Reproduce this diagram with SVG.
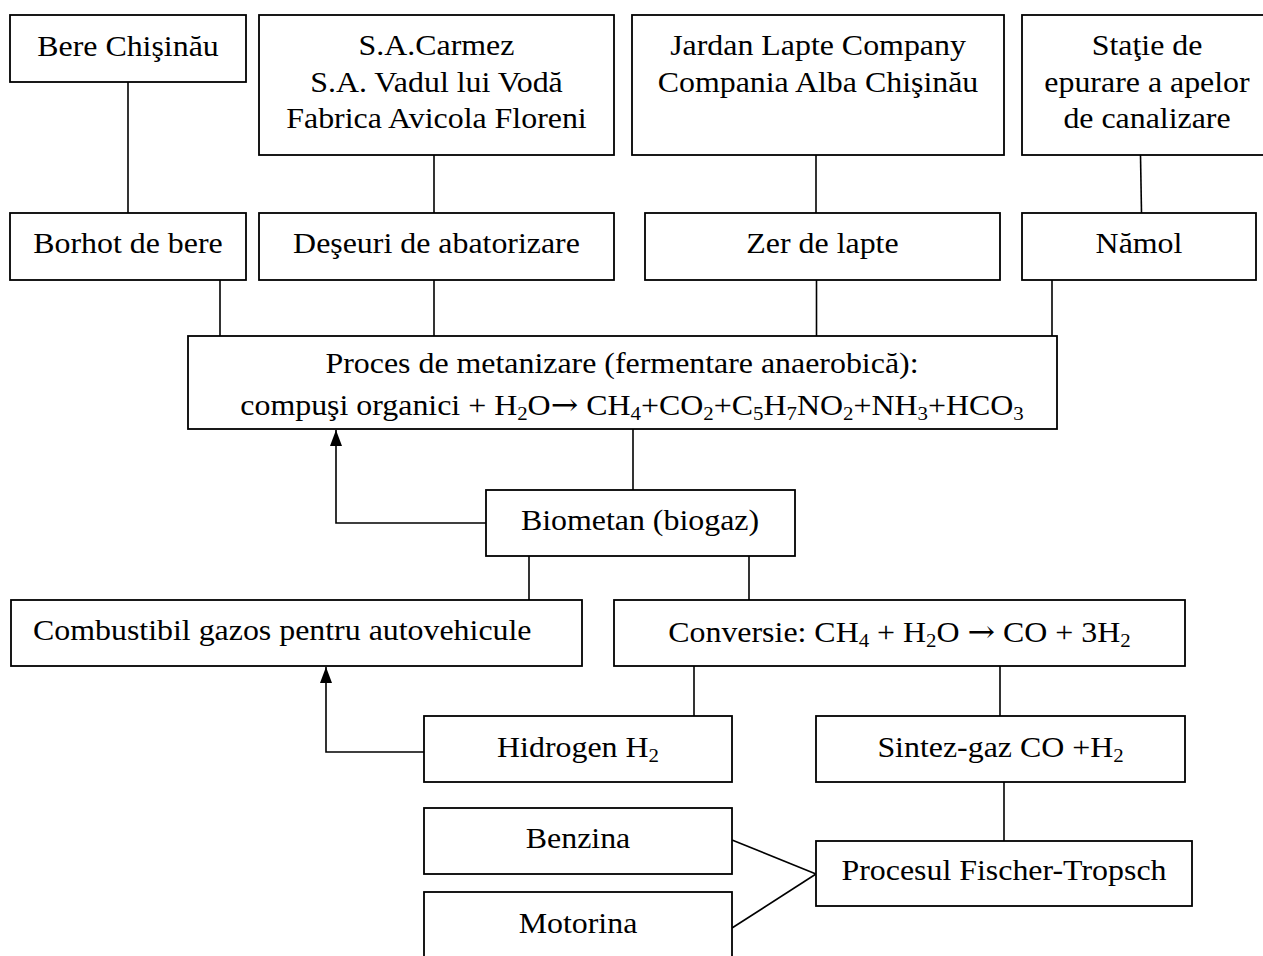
<svg xmlns="http://www.w3.org/2000/svg" width="1263" height="956" viewBox="0 0 1263 956">
<style>
.b{fill:#fff;stroke:#000;stroke-width:1.8}
.t{font-family:"Liberation Serif","Times New Roman",serif;font-size:29px;fill:#000;text-anchor:middle}
.s{text-anchor:start}
.c{fill:none;stroke:#000;stroke-width:1.6}
.sub{font-size:19px}
.ar{font-family:"DejaVu Serif",serif;font-size:30px}
</style>
<defs>
<marker id="ah" viewBox="0 0 16 12" refX="16" refY="6" markerWidth="16" markerHeight="12" markerUnits="userSpaceOnUse" orient="auto">
<path d="M0,0 L16,6 L0,12 z" fill="#000"/>
</marker>
</defs>
<rect width="1263" height="956" fill="#fff"/>
<g id="connectors">
<line class="c" x1="128" y1="82" x2="128" y2="213"/>
<line class="c" x1="434" y1="155" x2="434" y2="213"/>
<line class="c" x1="816" y1="155" x2="816" y2="213"/>
<line class="c" x1="1140.5" y1="155" x2="1141.5" y2="213"/>
<line class="c" x1="220" y1="280" x2="220" y2="336"/>
<line class="c" x1="434" y1="280" x2="434" y2="336"/>
<line class="c" x1="816.5" y1="280" x2="816.5" y2="336"/>
<line class="c" x1="1052" y1="280" x2="1052" y2="336"/>
<line class="c" x1="633" y1="429" x2="633" y2="490"/>
<polyline class="c" points="486,523 336,523 336,430" marker-end="url(#ah)"/>
<line class="c" x1="529" y1="556" x2="529" y2="600"/>
<line class="c" x1="749" y1="556" x2="749" y2="600"/>
<line class="c" x1="694" y1="666" x2="694" y2="716"/>
<line class="c" x1="1000" y1="666" x2="1000" y2="716"/>
<polyline class="c" points="424,752 326,752 326,667" marker-end="url(#ah)"/>
<line class="c" x1="1004" y1="782" x2="1004" y2="841"/>
<line class="c" x1="732" y1="840" x2="816" y2="874"/>
<line class="c" x1="732" y1="928" x2="816" y2="874"/>
</g>
<g id="n-bere">
<rect class="b" x="10" y="15" width="236" height="67"/>
<text class="t" transform="translate(128,56) scale(1.1,1)">Bere Chişinău</text>
</g>
<g id="n-carmez">
<rect class="b" x="259" y="15" width="355" height="140"/>
<text class="t" transform="translate(436.5,55) scale(1.1,1)">S.A.Carmez</text>
<text class="t" transform="translate(436.5,92) scale(1.1,1)">S.A. Vadul lui Vodă</text>
<text class="t" transform="translate(436.5,128) scale(1.1,1)">Fabrica Avicola Floreni</text>
</g>
<g id="n-jardan">
<rect class="b" x="632" y="15" width="372" height="140"/>
<text class="t" transform="translate(818,55) scale(1.1,1)">Jardan Lapte Company</text>
<text class="t" transform="translate(818,92) scale(1.1,1)">Compania Alba Chişinău</text>
</g>
<g id="n-statie">
<rect class="b" x="1022" y="15" width="250" height="140"/>
<text class="t" transform="translate(1147,55) scale(1.1,1)">Staţie de</text>
<text class="t" transform="translate(1147,92) scale(1.1,1)">epurare a apelor</text>
<text class="t" transform="translate(1147,128) scale(1.1,1)">de canalizare</text>
</g>
<g id="n-borhot">
<rect class="b" x="10" y="213" width="236" height="67"/>
<text class="t" transform="translate(128,253) scale(1.1,1)">Borhot de bere</text>
</g>
<g id="n-deseuri">
<rect class="b" x="259" y="213" width="355" height="67"/>
<text class="t" transform="translate(436.5,253) scale(1.1,1)">Deşeuri de abatorizare</text>
</g>
<g id="n-zer">
<rect class="b" x="645" y="213" width="355" height="67"/>
<text class="t" transform="translate(822.5,253) scale(1.1,1)">Zer de lapte</text>
</g>
<g id="n-namol">
<rect class="b" x="1022" y="213" width="234" height="67"/>
<text class="t" transform="translate(1139,253) scale(1.1,1)">Nămol</text>
</g>
<g id="n-proces">
<rect class="b" x="188" y="336" width="869" height="93"/>
<text class="t" transform="translate(622,373) scale(1.1,1)">Proces de metanizare (fermentare anaerobică):</text>
<text class="t" transform="translate(632,415) scale(1.1,1)">compuşi organici + H<tspan class="sub" dy="5">2</tspan><tspan dy="-5">O</tspan><tspan class="ar">→</tspan><tspan> CH</tspan><tspan class="sub" dy="5">4</tspan><tspan dy="-5">+CO</tspan><tspan class="sub" dy="5">2</tspan><tspan dy="-5">+C</tspan><tspan class="sub" dy="5">5</tspan><tspan dy="-5">H</tspan><tspan class="sub" dy="5">7</tspan><tspan dy="-5">NO</tspan><tspan class="sub" dy="5">2</tspan><tspan dy="-5">+NH</tspan><tspan class="sub" dy="5">3</tspan><tspan dy="-5">+HCO</tspan><tspan class="sub" dy="5">3</tspan></text>
</g>
<g id="n-biometan">
<rect class="b" x="486" y="490" width="309" height="66"/>
<text class="t" transform="translate(640,530) scale(1.1,1)">Biometan (biogaz)</text>
</g>
<g id="n-combustibil">
<rect class="b" x="11" y="600" width="571" height="66"/>
<text class="t s" transform="translate(33,640) scale(1.1,1)">Combustibil gazos pentru autovehicule</text>
</g>
<g id="n-conversie">
<rect class="b" x="614" y="600" width="571" height="66"/>
<text class="t" transform="translate(899.5,642) scale(1.1,1)">Conversie: CH<tspan class="sub" dy="5">4</tspan><tspan dy="-5"> + H</tspan><tspan class="sub" dy="5">2</tspan><tspan dy="-5">O </tspan><tspan class="ar">→</tspan><tspan> CO + 3H</tspan><tspan class="sub" dy="5">2</tspan></text>
</g>
<g id="n-hidrogen">
<rect class="b" x="424" y="716" width="308" height="66"/>
<text class="t" transform="translate(578,757) scale(1.1,1)">Hidrogen H<tspan class="sub" dy="5">2</tspan></text>
</g>
<g id="n-sintez">
<rect class="b" x="816" y="716" width="369" height="66"/>
<text class="t" transform="translate(1000.5,757) scale(1.1,1)">Sintez-gaz CO +H<tspan class="sub" dy="5">2</tspan></text>
</g>
<g id="n-benzina">
<rect class="b" x="424" y="808" width="308" height="66"/>
<text class="t" transform="translate(578,848) scale(1.1,1)">Benzina</text>
</g>
<g id="n-motorina">
<rect class="b" x="424" y="892" width="308" height="80"/>
<text class="t" transform="translate(578,933) scale(1.1,1)">Motorina</text>
</g>
<g id="n-ft">
<rect class="b" x="816" y="841" width="376" height="65"/>
<text class="t" transform="translate(1004,880) scale(1.1,1)">Procesul Fischer-Tropsch</text>
</g>
</svg>
